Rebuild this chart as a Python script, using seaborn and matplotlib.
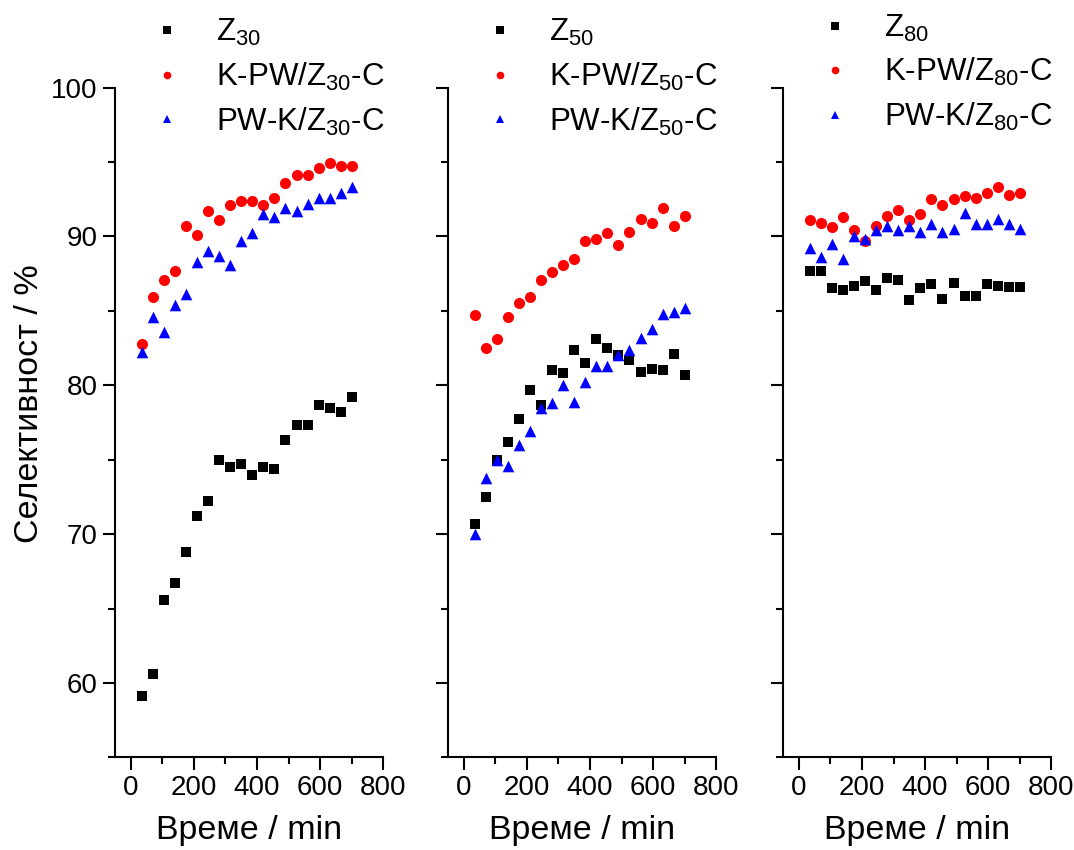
import numpy as np
import pandas as pd
import matplotlib
matplotlib.use('Agg')
import matplotlib.pyplot as plt
import seaborn as sns
from matplotlib.ticker import MultipleLocator
from matplotlib.lines import Line2D

# time points, min
time = [35, 70, 105, 140, 175, 210, 245, 280, 315, 350,
        385, 420, 455, 490, 525, 560, 595, 630, 665, 700]

# Z30 panel
z30 = [59.1, 60.6, 65.6, 66.7, 68.8, 71.2, 72.2, 75.0, 74.5, 74.7,
       74.0, 74.5, 74.4, 76.3, 77.3, 77.3, 78.7, 78.5, 78.2, 79.2]
kpw_z30 = [82.8, 85.9, 87.1, 87.7, 90.7, 90.1, 91.7, 91.1, 92.1, 92.4,
           92.4, 92.1, 92.6, 93.6, 94.1, 94.1, 94.6, 94.9, 94.7, 94.7]
pwk_z30 = [82.2, 84.6, 83.6, 85.4, 86.1, 88.3, 89.0, 88.7, 88.1, 89.7,
           90.2, 91.5, 91.3, 91.9, 91.7, 92.2, 92.6, 92.6, 92.9, 93.3]

# Z50 panel
z50 = [70.7, 72.5, 75.0, 76.2, 77.7, 79.7, 78.7, 81.0, 80.8, 82.4,
       81.5, 83.1, 82.5, 82.0, 81.7, 80.9, 81.1, 81.0, 82.1, 80.7]
kpw_z50 = [84.7, 82.5, 83.1, 84.6, 85.5, 85.9, 87.1, 87.6, 88.1, 88.5,
           89.7, 89.8, 90.2, 89.4, 90.3, 91.2, 90.9, 91.9, 90.7, 91.4]
pwk_z50 = [70.0, 73.8, 75.0, 74.6, 76.0, 76.9, 78.5, 78.8, 80.0, 78.9,
           80.2, 81.3, 81.3, 82.0, 82.4, 83.2, 83.8, 84.8, 84.9, 85.2]

# Z80 panel
z80 = [87.7, 87.7, 86.5, 86.4, 86.7, 87.0, 86.4, 87.2, 87.1, 85.7,
       86.5, 86.8, 85.8, 86.9, 86.0, 86.0, 86.8, 86.7, 86.6, 86.6]
kpw_z80 = [91.1, 90.9, 90.6, 91.3, 90.4, 89.7, 90.7, 91.4, 91.8, 91.1,
           91.5, 92.5, 92.1, 92.5, 92.7, 92.6, 92.9, 93.3, 92.8, 92.9]
pwk_z80 = [89.2, 88.6, 89.5, 88.5, 90.0, 89.8, 90.4, 90.7, 90.4, 90.7,
           90.3, 90.8, 90.3, 90.5, 91.6, 90.8, 90.8, 91.2, 90.8, 90.5]

supports = ['30', '50', '80']
panels = [(z30, kpw_z30, pwk_z30), (z50, kpw_z50, pwk_z50), (z80, kpw_z80, pwk_z80)]

sns.set_style('ticks', {'axes.edgecolor': 'black', 'text.color': 'black',
                        'xtick.color': 'black', 'ytick.color': 'black',
                        'axes.labelcolor': 'black'})
plt.rcParams['font.family'] = ['Liberation Sans', 'DejaVu Sans']
plt.rcParams['mathtext.fontset'] = 'custom'
plt.rcParams['mathtext.rm'] = 'Liberation Sans'

fig = plt.figure(figsize=(10.74, 8.5), dpi=100)

lefts = [0.107, 0.417, 0.729]
legend_tops = [1.105, 1.105, 1.112]
styles = [('s', 'black', 50), ('o', 'red', 64), ('^', 'blue', 70)]

for i, (left, sup, series) in enumerate(zip(lefts, supports, panels)):
    ax = fig.add_axes([left, 0.109, 0.25, 0.788])
    labels = ['Z$\\mathregular{_{%s}}$' % sup,
              'K-PW/Z$\\mathregular{_{%s}}$-C' % sup,
              'PW-K/Z$\\mathregular{_{%s}}$-C' % sup]
    handles = []
    for vals, lab, (mk, col, sz) in zip(series, labels, styles):
        df = pd.DataFrame({'t': time, 's': vals})
        sns.scatterplot(data=df, x='t', y='s', marker=mk, color=col, s=sz,
                        linewidth=0, ax=ax)
        handles.append(Line2D([], [], marker=mk, color=col, linestyle='none',
                              markersize=5.5, markeredgewidth=0, label=lab))

    ax.set_xlim(-50, 800)
    ax.set_ylim(55, 100)
    ax.xaxis.set_major_locator(MultipleLocator(200))
    ax.xaxis.set_minor_locator(MultipleLocator(100))
    ax.yaxis.set_major_locator(MultipleLocator(10))
    ax.yaxis.set_minor_locator(MultipleLocator(5))
    ax.tick_params(which='major', direction='out', length=9, width=1.5, labelsize=20)
    ax.tick_params(which='minor', direction='out', length=5, width=1.5)
    for sp in ['left', 'bottom']:
        ax.spines[sp].set_linewidth(1.5)
    sns.despine(ax=ax)
    ax.set_xlabel('Време / min', fontsize=24.5, labelpad=10)
    if i == 0:
        ax.set_ylabel('Селективност / %', fontsize=24.5)
        ax.yaxis.set_label_coords(-0.262, 0.528)
    else:
        ax.set_ylabel('')
        ax.tick_params(axis='y', labelleft=False)

    ax.legend(handles=handles, loc='upper left', bbox_to_anchor=(0.137, legend_tops[i]),
              frameon=False, fontsize=22.5, handlelength=1, handletextpad=1.05,
              labelspacing=0.4, borderpad=0, borderaxespad=0)

fig.savefig('out.png', dpi=100)
